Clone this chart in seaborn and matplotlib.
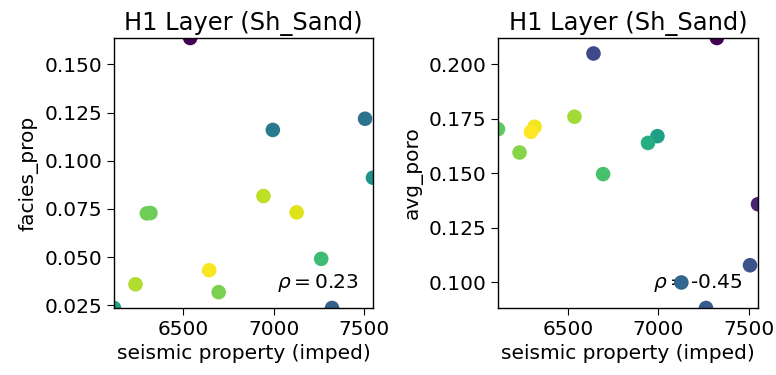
import numpy as np
import pandas as pd
import matplotlib
matplotlib.use("Agg")
import matplotlib.pyplot as plt
import seaborn as sns

# ---- data ----
imped = [6115, 6234, 6297, 6317, 6537, 6642, 6695, 6943, 6995, 7127, 7263, 7323, 7506, 7550]
facies_prop = [0.0236, 0.0359, 0.0727, 0.0729, 0.1637, 0.0432, 0.0318, 0.0817, 0.1160,
               0.0732, 0.0491, 0.0236, 0.1218, 0.0912]
avg_poro = [0.1703, 0.1596, 0.1691, 0.1714, 0.1760, 0.2050, 0.1497, 0.1640, 0.1671,
            0.1000, 0.0883, 0.2121, 0.1079, 0.1359]
# point density (colour scale 0..1) for each panel
dens_facies = [0.57, 0.88, 0.78, 0.77, 0.00, 0.99, 0.80, 0.90, 0.41, 0.95, 0.69, 0.30, 0.38, 0.51]
dens_poro = [0.75, 0.82, 1.00, 0.98, 0.86, 0.22, 0.71, 0.62, 0.56, 0.33, 0.29, 0.00, 0.25, 0.10]
rho_labels = ["0.23", "-0.45"]
title = "H1 Layer (Sh_Sand)"
xlabel = "seismic property (imped)"
ylabels = ["facies_prop", "avg_poro"]
xticks = [6500, 7000, 7500]

plt.rcParams.update({
    "font.family": ["DejaVu Sans"],
    "font.size": 14.5,
    "xtick.major.size": 5,
    "ytick.major.size": 5,
    "axes.linewidth": 1.0,
})

fig = plt.figure(figsize=(7.76, 3.75), dpi=100)
ax1 = fig.add_axes([114 / 776, 1 - 308 / 375, 259 / 776, 270 / 375])
ax2 = fig.add_axes([498 / 776, 1 - 308 / 375, 260 / 776, 270 / 375])

panels = [
    (ax1, facies_prop, dens_facies, ylabels[0], rho_labels[0], 0.628),
    (ax2, avg_poro, dens_poro, ylabels[1], rho_labels[1], 0.595),
]
for ax, yv, dv, ylab, rho, tx in panels:
    df = pd.DataFrame({"x": imped, "y": yv, "d": dv}).sort_values("d")
    ax.text(tx, 0.073, r"$\rho = $" + rho, transform=ax.transAxes,
            fontsize=14.5, ha="left", va="baseline", zorder=0.5)
    sns.scatterplot(data=df, x="x", y="y", hue="d", palette="viridis",
                    hue_norm=(0, 1), s=110, linewidth=0, legend=False,
                    ax=ax, zorder=2)
    ax.set_xlim(min(imped), max(imped))
    ax.set_ylim(min(yv), max(yv))
    ax.set_xticks(xticks)
    ax.set_title(title, fontsize=17.4)
    ax.set_xlabel(xlabel)
    ax.set_ylabel(ylab)

ax1.set_yticks([0.025, 0.050, 0.075, 0.100, 0.125, 0.150])
ax2.set_yticks([0.100, 0.125, 0.150, 0.175, 0.200])
ax1.yaxis.set_major_formatter(matplotlib.ticker.FormatStrFormatter("%.3f"))
ax2.yaxis.set_major_formatter(matplotlib.ticker.FormatStrFormatter("%.3f"))

fig.savefig("out.png", dpi=100)
